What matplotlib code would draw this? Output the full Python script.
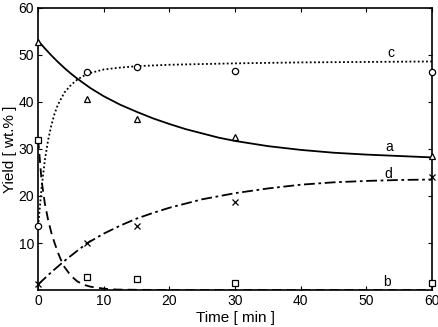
import numpy as np
import matplotlib
matplotlib.use('Agg')
import matplotlib.pyplot as plt

plt.rcParams['font.family'] = ['Liberation Sans', 'DejaVu Sans']

# measured points
t_pts = [0, 7.5, 15, 30, 60]
a_pts = [52.8, 40.6, 36.3, 32.6, 28.4]          # triangles
b_pts = [31.8, 2.8, 2.3, 1.5, 1.4]              # squares
c_pts = [13.6, 46.4, 47.4, 46.6, 46.3]          # circles
d_pts = [1.2, 10.0, 13.6, 18.7, 24.0]           # crosses

# model curves
t_a = [0, 1, 2, 3, 4, 5, 6, 8, 10, 12.5, 15, 17.5, 20, 22.5, 25, 27.5, 30, 35, 40, 45, 50, 55, 60]
a_fit = [53, 51.4, 49.9, 48.5, 47.2, 46.0, 44.9, 42.9, 41.2, 39.4, 37.9, 36.5, 35.3, 34.2, 33.3,
         32.4, 31.7, 30.6, 29.8, 29.2, 28.8, 28.5, 28.2]

t_b = [0, 0.5, 1, 1.5, 2, 2.5, 3, 3.5, 4, 5, 6, 7, 8, 10, 12, 15, 20, 30, 40, 50, 60]
b_fit = [32, 23.5, 18.5, 15, 12.2, 10.0, 8.0, 6.3, 4.9, 3.0, 1.8, 1.1, 0.7, 0.3, 0.1, 0.05, 0, 0, 0, 0, 0]

t_c = [0, 0.5, 1, 1.5, 2, 2.5, 3, 4, 5, 6, 7.5, 10, 12.5, 15, 20, 30, 40, 50, 60]
c_fit = [13.6, 21.5, 27.5, 31.8, 35.0, 37.5, 39.4, 42.0, 43.6, 44.8, 46.0, 46.9, 47.3, 47.6, 47.9,
         48.2, 48.4, 48.5, 48.6]

t_d = [0, 2, 4, 6, 7.5, 10, 12.5, 15, 17.5, 20, 25, 30, 35, 40, 45, 50, 55, 60]
d_fit = [1.2, 3.8, 6.2, 8.4, 10.0, 12.0, 13.7, 15.2, 16.4, 17.5, 19.3, 20.6, 21.6, 22.4, 22.9, 23.2,
         23.4, 23.5]

fig = plt.figure(figsize=(4.39, 3.27), dpi=100)
ax = fig.add_axes([0.087, 0.113, 0.897, 0.863])

k = dict(color='black', lw=1.3)
ax.plot(t_a, a_fit, '-', **k)
ax.plot(t_b, b_fit, dashes=(5, 3), **k)
ax.plot(t_c, c_fit, dashes=(1, 1.3), **k)
ax.plot(t_d, d_fit, dashes=(6, 2, 1.5, 2), **k)

mk = dict(color='black', mfc='white', ls='none', ms=4.5, mew=0.9, clip_on=False, zorder=5)
ax.plot(t_pts, a_pts, '^', **mk)
ax.plot(t_pts, b_pts, 's', **mk)
ax.plot(t_pts, c_pts, 'o', **mk)
ax.plot(t_pts, d_pts, 'x', **mk)

for lab, x, y in [('c', 53.8, 50.4), ('a', 53.5, 30.4), ('d', 53.3, 24.6), ('b', 53.2, 1.8)]:
    ax.text(x, y, lab, fontsize=10, ha='center', va='center')

ax.set_xlim(0, 60)
ax.set_ylim(0, 60)
ax.set_xticks([0, 10, 20, 30, 40, 50, 60])
ax.set_yticks([10, 20, 30, 40, 50, 60])
ax.tick_params(direction='in', top=True, right=True, labelsize=10, length=3, pad=3)
for s in ax.spines.values():
    s.set_linewidth(1.2)

ax.set_xlabel('Time [ min ]', fontsize=11, labelpad=2)
ax.set_ylabel('Yield [ wt.% ]', fontsize=11, labelpad=1)

fig.savefig('out.png', dpi=100)
